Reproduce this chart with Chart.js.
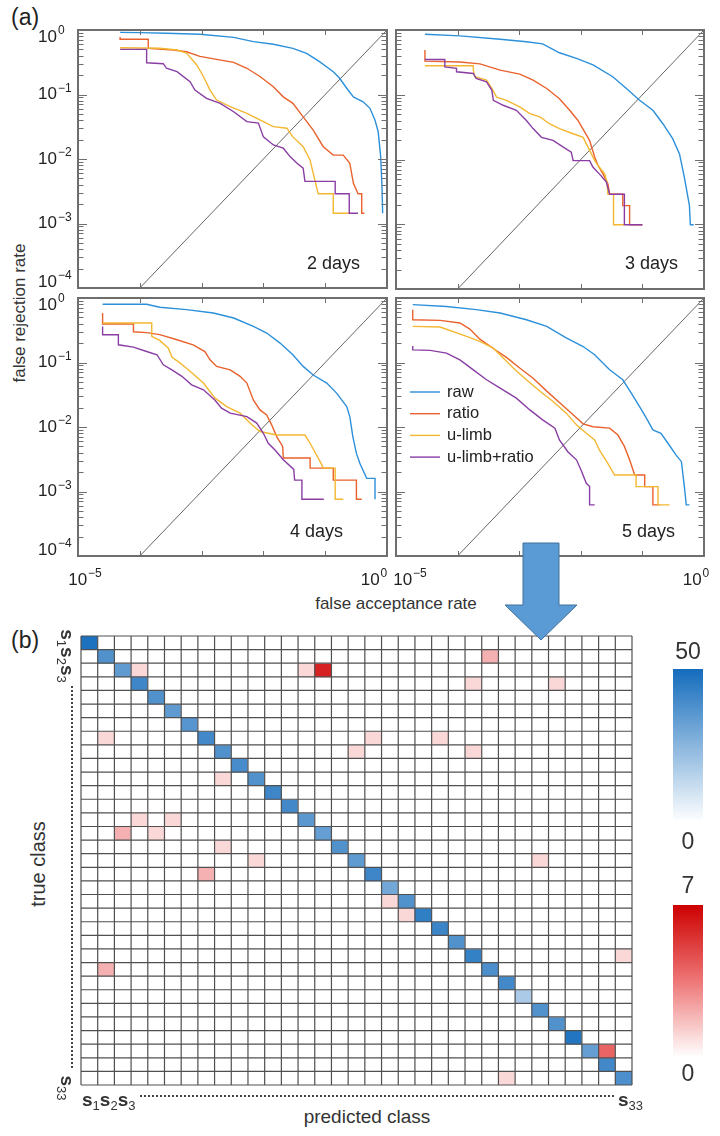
<!DOCTYPE html>
<html>
<head>
<meta charset="utf-8">
<title>DET curves and confusion matrix</title>
<script src="https://cdn.jsdelivr.net/npm/chart.js@4.4.1/dist/chart.umd.min.js"></script>
<style>
  html, body { margin: 0; padding: 0; background: #fff; }
  body { position: relative; width: 720px; height: 1136px; overflow: hidden;
         font-family: "Liberation Sans", Arial, sans-serif; color: #333; }
  canvas, .lbl, svg, .dots { position: absolute; }
  .lbl { white-space: nowrap; line-height: 1; }
  .c { transform: translate(-50%, -50%); }
  .up { transform: translate(-50%, -50%) rotate(-90deg); }
  .down { transform: translate(-50%, -50%) rotate(90deg); }
  .s { font-weight: bold; font-size: 19px; color: #333; }
  .s sub { font-size: 13px; font-weight: normal; vertical-align: -4px; }
</style>
</head>
<body>
<div class="lbl" style="left:11px;top:6px;font-size:23px;color:#222">(a)</div>
<div class="lbl" style="left:11px;top:629px;font-size:23px;color:#222">(b)</div>
<div class="lbl up" style="left:19px;top:313px;font-size:17px">false rejection rate</div>
<div class="lbl c" style="left:396px;top:603px;font-size:17px">false acceptance rate</div>
<div class="lbl up" style="left:38px;top:864px;font-size:20px">true class</div>
<div class="lbl c" style="left:367px;top:1116px;font-size:19px">predicted class</div>

<canvas id="p1" width="394" height="298" style="left:3px;top:22px"></canvas>
<canvas id="p2" width="393" height="299" style="left:321px;top:22px"></canvas>
<canvas id="p3" width="394" height="298" style="left:3px;top:290px"></canvas>
<canvas id="p4" width="393" height="298" style="left:321px;top:290px"></canvas>
<canvas id="cm" width="720" height="516" style="left:0px;top:620px"></canvas>

<div class="lbl s down" style="left:66px;top:656px">s<sub>1</sub>s<sub>2</sub>s<sub>3</sub></div>
<div class="dots" style="left:71px;top:686px;height:382px;border-left:2px dotted #444"></div>
<div class="lbl s down" style="left:66px;top:1088px">s<sub>33</sub></div>
<div class="lbl s" style="left:82px;top:1090px">s<sub>1</sub>s<sub>2</sub>s<sub>3</sub></div>
<div class="dots" style="left:140px;top:1095px;width:474px;border-top:2px dotted #444"></div>
<div class="lbl s" style="left:618px;top:1090px">s<sub>33</sub></div>

<svg width="720" height="1136" style="left:0;top:0;pointer-events:none">
  <polygon points="523,543 559,543 559,605 577,605 541,640 505,605 523,605"
           fill="#5b9bd5" stroke="#41719c" stroke-width="1"/>
</svg>

<script>
// ---- (a) DET curves: [false acceptance rate, false rejection rate] ----
const seriesNames = ['raw', 'ratio', 'u-limb', 'u-limb+ratio'];
const seriesColors = ['#2c90da', '#e9622d', '#f3b731', '#8a3ea4'];
const dayLabels = ['2 days', '3 days', '4 days', '5 days'];
const xTickExps = [-5, -4, -3, -2, -1, 0];
const yTickExps = [0, -1, -2, -3, -4];
const equalErrorLine = [[1e-4, 1e-4], [1, 1]];

// 2 days
const raw2 = [[4.8e-5,0.92],[1.0e-4,0.91],[2.7e-4,0.89],[9.4e-4,0.86],[3.3e-3,0.77],[6.9e-3,0.66],[0.0145,0.6],
  [0.030,0.52],[0.050,0.435],[0.082,0.32],[0.135,0.226],[0.17,0.18],[0.223,0.125],[0.286,0.092],[0.41,0.077],
  [0.53,0.061],[0.64,0.040],[0.72,0.0265],[0.79,0.0109],[0.83,3.7e-3],[0.85,1.44e-3]];
const ratio2 = [[4.8e-5,0.78],[4.8e-5,0.72],[1.37e-4,0.72],[1.37e-4,0.52],[3.5e-4,0.49],[5.7e-4,0.46],[9.4e-4,0.39],
  [1.75e-3,0.35],[3.3e-3,0.315],[5.4e-3,0.255],[8.8e-3,0.19],[0.0145,0.132],[0.021,0.092],[0.030,0.073],
  [0.044,0.045],[0.064,0.028],[0.093,0.0155],[0.135,0.0115],[0.196,0.0115],[0.25,8.6e-3],[0.286,4.2e-3],
  [0.34,2.9e-3],[0.39,2.9e-3],[0.39,1.44e-3],[0.43,1.44e-3]];
const limb2 = [[4.8e-5,0.53],[2.1e-4,0.52],[4.0e-4,0.49],[5.7e-4,0.44],[8.3e-4,0.29],[1.07e-3,0.19],[1.37e-3,0.117],
  [1.75e-3,0.082],[2.9e-3,0.065],[5.4e-3,0.051],[0.01,0.038],[0.0145,0.0317],[0.024,0.030],[0.030,0.022],
  [0.044,0.0155],[0.057,9.6e-3],[0.064,6e-3],[0.077,2.9e-3],[0.135,2.9e-3],[0.135,1.44e-3],[0.25,1.44e-3]];
const limbRatio2 = [[4.8e-5,0.50],[1.29e-4,0.50],[1.29e-4,0.31],[2.4e-4,0.30],[2.7e-4,0.255],[4.0e-4,0.226],
  [6.5e-4,0.158],[7.8e-4,0.117],[1.2e-3,0.087],[2.0e-3,0.073],[3.3e-3,0.054],[5.4e-3,0.038],[8.3e-3,0.036],
  [0.01,0.022],[0.0145,0.0165],[0.021,0.0147],[0.027,0.0109],[0.035,8.6e-3],[0.044,7.2e-3],[0.047,4.5e-3],
  [0.145,4.5e-3],[0.145,2.9e-3],[0.245,2.9e-3],[0.245,1.44e-3],[0.34,1.44e-3]];

// 3 days
const raw3 = [[2.95e-5,0.86],[1.09e-4,0.81],[4.9e-4,0.72],[1.31e-3,0.66],[2.4e-3,0.61],[4.5e-3,0.445],[8.5e-3,0.364],
  [0.0158,0.29],[0.033,0.19],[0.055,0.125],[0.090,0.082],[0.148,0.0575],[0.215,0.0357],[0.31,0.021],[0.40,0.0122],
  [0.48,5.3e-3],[0.58,1.94e-3],[0.60,9.8e-4],[0.68,9.8e-4]];
const ratio3 = [[2.95e-5,0.49],[2.95e-5,0.33],[1.09e-4,0.32],[2.3e-4,0.30],[4.9e-4,0.24],[1.02e-3,0.208],[1.68e-3,0.168],
  [2.8e-3,0.125],[4.5e-3,0.087],[6.6e-3,0.0575],[9e-3,0.040],[0.0116,0.0265],[0.0139,0.0197],[0.0168,0.0109],
  [0.019,8.1e-3],[0.0229,6e-3],[0.0276,4.2e-3],[0.0294,2.9e-3],[0.048,2.9e-3],[0.048,1.94e-3],[0.062,1.94e-3],
  [0.062,9.8e-4],[0.10,9.8e-4]];
const limb3 = [[2.95e-5,0.28],[1.8e-4,0.28],[1.8e-4,0.24],[1.9e-4,0.19],[2.95e-4,0.168],[3.6e-4,0.125],[4.3e-4,0.092],
  [6.2e-4,0.082],[1.02e-3,0.065],[1.49e-3,0.051],[2.2e-3,0.045],[3.1e-3,0.0357],[4.5e-3,0.030],[7.5e-3,0.025],
  [0.0109,0.022],[0.0131,0.0155],[0.0168,9.6e-3],[0.020,7.6e-3],[0.0244,6e-3],[0.0266,4.5e-3],[0.0276,2.9e-3],
  [0.034,2.9e-3],[0.034,9.8e-4],[0.051,9.8e-4]];
const limbRatio3 = [[2.95e-5,0.35],[6.2e-5,0.35],[6.2e-5,0.27],[9.6e-5,0.255],[9.6e-5,0.226],[1.8e-4,0.213],
  [2.0e-4,0.178],[2.95e-4,0.158],[3.6e-4,0.117],[3.8e-4,0.082],[5.5e-4,0.0688],[9.0e-4,0.0575],[1.31e-3,0.040],
  [1.68e-3,0.030],[2.3e-3,0.022],[3.55e-3,0.0197],[5.2e-3,0.0155],[7.0e-3,0.013],[7.5e-3,9.6e-3],[0.0139,9.6e-3],
  [0.0158,7.6e-3],[0.020,6e-3],[0.026,4.5e-3],[0.0294,2.9e-3],[0.051,2.9e-3],[0.051,9.8e-4],[0.10,9.8e-4]];

// 4 days
const raw4 = [[2.5e-5,0.80],[1.29e-4,0.80],[2.1e-4,0.72],[5.7e-4,0.66],[1.55e-3,0.585],[3.3e-3,0.49],[6.9e-3,0.363],
  [0.0113,0.286],[0.0186,0.20],[0.030,0.132],[0.044,0.087],[0.064,0.064],[0.106,0.048],[0.153,0.0335],[0.223,0.0207],
  [0.25,0.0145],[0.28,7.1e-3],[0.32,3.9e-3],[0.366,2.7e-3],[0.47,1.6e-3],[0.64,1.6e-3],[0.64,7.6e-4]];
const ratio4 = [[2.5e-5,0.585],[2.5e-5,0.395],[7.9e-5,0.395],[7.9e-5,0.30],[1.29e-4,0.29],[2.1e-4,0.27],[4.0e-4,0.225],
  [7.3e-4,0.188],[1.13e-3,0.148],[1.37e-3,0.11],[1.75e-3,0.087],[2.9e-3,0.077],[4.2e-3,0.061],[5.4e-3,0.048],
  [6.9e-3,0.026],[8.8e-3,0.0184],[0.0113,0.0154],[0.0136,0.0108],[0.0164,7.1e-3],[0.0205,5.0e-3],[0.021,3.3e-3],
  [0.057,3.3e-3],[0.057,2.3e-3],[0.135,2.3e-3],[0.135,1.5e-3],[0.32,1.5e-3],[0.32,7.6e-4],[0.39,7.6e-4]];
const limb4 = [[2.5e-5,0.41],[1.56e-4,0.41],[1.56e-4,0.254],[2.1e-4,0.22],[2.9e-4,0.167],[3.3e-4,0.121],[4.5e-4,0.098],
  [6.5e-4,0.073],[1.07e-3,0.048],[1.65e-3,0.028],[2.55e-3,0.0207],[4.2e-3,0.0164],[6.5e-3,0.0108],[8.8e-3,8.5e-3],
  [0.0164,7.5e-3],[0.047,7.5e-3],[0.057,5.6e-3],[0.068,4.1e-3],[0.0845,2.8e-3],[0.093,2.3e-3],[0.145,2.3e-3],
  [0.145,7.6e-4],[0.196,7.6e-4]];
const limbRatio4 = [[2.5e-5,0.363],[2.5e-5,0.27],[4.5e-5,0.27],[4.5e-5,0.188],[7.9e-5,0.173],[1.29e-4,0.148],
  [1.9e-4,0.132],[2.4e-4,0.092],[3.3e-4,0.077],[4.8e-4,0.061],[6.9e-4,0.045],[1.07e-3,0.0377],[1.65e-3,0.026],
  [2.1e-3,0.0196],[2.9e-3,0.0164],[5.4e-3,0.0145],[7.8e-3,0.0115],[0.01,8e-3],[0.012,5.6e-3],[0.0154,4.4e-3],
  [0.021,3.1e-3],[0.031,2.2e-3],[0.032,1.5e-3],[0.042,1.5e-3],[0.042,7.6e-4],[0.095,7.6e-4]];

// 5 days
const raw5 = [[1.87e-5,0.79],[6.6e-5,0.74],[2.0e-4,0.66],[4.9e-4,0.585],[1.31e-3,0.46],[2.8e-3,0.363],[5.8e-3,0.24],
  [0.0109,0.177],[0.0168,0.132],[0.0294,0.077],[0.048,0.054],[0.066,0.0335],[0.090,0.0207],[0.116,0.0137],
  [0.148,9e-3],[0.20,8e-3],[0.26,5.6e-3],[0.35,3.7e-3],[0.43,2.9e-3],[0.48,1.19e-3],[0.515,6.2e-4],[0.58,6.2e-4]];
const ratio5 = [[1.87e-5,0.66],[1.87e-5,0.46],[5.2e-5,0.45],[1.09e-4,0.41],[1.58e-4,0.33],[2.3e-4,0.23],[3.8e-4,0.165],
  [6.2e-4,0.12],[1.02e-3,0.082],[1.68e-3,0.057],[2.8e-3,0.036],[4.5e-3,0.024],[7.5e-3,0.0155],[0.0109,0.0112],
  [0.0158,0.0101],[0.0294,9.6e-3],[0.040,7.5e-3],[0.051,5e-3],[0.062,3.1e-3],[0.075,1.8e-3],[0.109,1.8e-3],
  [0.109,1.19e-3],[0.148,1.19e-3],[0.148,6.2e-4],[0.19,6.2e-4]];
const limb5 = [[1.87e-5,0.363],[5.2e-5,0.355],[1.4e-4,0.254],[2.3e-4,0.212],[3.8e-4,0.167],[5.5e-4,0.117],[8e-4,0.082],
  [1.31e-3,0.054],[2.2e-3,0.0355],[3.55e-3,0.0248],[5.8e-3,0.0164],[8.5e-3,0.0108],[0.0123,8e-3],[0.0168,6.3e-3],
  [0.020,4.4e-3],[0.0276,2.7e-3],[0.0354,1.8e-3],[0.079,1.8e-3],[0.079,1.19e-3],[0.179,1.19e-3],[0.179,6.2e-4],
  [0.276,6.2e-4]];
const limbRatio5 = [[1.87e-5,0.18],[1.87e-5,0.157],[3.6e-5,0.154],[6.6e-5,0.14],[1.09e-4,0.11],[1.8e-4,0.077],
  [2.95e-4,0.054],[4.9e-4,0.04],[9e-4,0.028],[1.49e-3,0.0184],[2.4e-3,0.0129],[3.8e-3,9.6e-3],[4.5e-3,6.3e-3],
  [6.2e-3,4.1e-3],[8.5e-3,3.1e-3],[0.01,2.2e-3],[0.0123,1.34e-3],[0.0139,1.19e-3],[0.0139,6.2e-4],[0.0168,6.2e-4]];

// ---- (b) confusion matrix ----
const classLabels = Array.from({ length: 33 }, (_, i) => 's' + (i + 1));
const diagCounts = [48,37,34,41,37,34,36,40,37,39,37,41,40,35,33,37,34,41,30,37,44,42,37,43,38,40,18,37,37,47,33,40,38];
// [true row, predicted column, count]
const offDiag = [[1,24,2],[2,3,1],[2,13,1],[2,14,6],[3,23,1],[3,28,1],[7,1,1],[7,17,1],[7,21,1],[8,16,1],[8,23,1],
  [10,8,1],[13,3,1],[13,5,1],[14,2,2],[14,4,1],[15,8,1],[16,10,1],[16,27,1],[17,7,2],[19,18,1],[20,19,1],
  [23,32,1],[24,1,2],[30,31,4],[32,25,1]];
const blueMax = 50, redMax = 7;

const FONT = '"Liberation Sans", Arial, sans-serif';
const toXY = pts => pts.map(p => ({ x: p[0], y: p[1] }));

function drawPow(ctx, x, y, exp, align) {
  const es = exp === 0 ? '0' : '\u2212' + Math.abs(exp);
  ctx.font = '17px ' + FONT;
  const bw = ctx.measureText('10').width;
  ctx.font = '12px ' + FONT;
  const ew = ctx.measureText(es).width;
  const x0 = align === 'left' ? x : x - (bw + 1 + ew) / 2;
  ctx.textAlign = 'left';
  ctx.textBaseline = 'middle';
  ctx.font = '17px ' + FONT;
  ctx.fillText('10', x0, y);
  ctx.font = '12px ' + FONT;
  ctx.fillText(es, x0 + bw + 1, y - 6);
}

const framePlugin = {
  id: 'frame',
  afterDraw(chart, args, o) {
    const ctx = chart.ctx;
    const x = chart.scales.x, y = chart.scales.y;
    const L = Math.round(x.getPixelForValue(1e-5)), R = Math.round(x.getPixelForValue(1));
    const T = Math.round(y.getPixelForValue(1)), B = Math.round(y.getPixelForValue(1e-4));
    ctx.save();
    // axes box and inward ticks, as filled strips
    ctx.fillStyle = '#6e6e6e';
    ctx.fillRect(L - 1, T - 1, R - L + 2, 2);
    ctx.fillRect(L - 1, B - 1, R - L + 2, 2);
    ctx.fillRect(L - 1, T - 1, 2, B - T + 2);
    ctx.fillRect(R - 1, T - 1, 2, B - T + 2);
    xTickExps.forEach(e => {
      const px = Math.round(x.getPixelForValue(Math.pow(10, e)));
      ctx.fillRect(px, T, 1, 5);
      ctx.fillRect(px, B - 5, 1, 5);
    });
    yTickExps.forEach(e => {
      const py = Math.round(y.getPixelForValue(Math.pow(10, e)));
      ctx.fillRect(L, py, 9, 1);
      ctx.fillRect(R - 9, py, 9, 1);
      if (e < 0) {
        for (let m = 2; m <= 9; m++) {
          const pm = Math.round(y.getPixelForValue(m * Math.pow(10, e)));
          ctx.fillRect(L, pm, 5.5, 1);
          ctx.fillRect(R - 5.5, pm, 5.5, 1);
        }
      }
    });

    ctx.fillStyle = '#222';
    if (o.yLabels) {
      yTickExps.forEach(e => {
        // end labels are pulled inside the axis span
        const shift = e === 0 ? 7 : (e === -4 ? -6 : 0);
        drawPow(ctx, L - 40, y.getPixelForValue(Math.pow(10, e)) + shift, e, 'left');
      });
    }
    if (o.xLabels) {
      const yy = B + 24;
      drawPow(ctx, L + o.xLabels[0], yy, -5, 'center');
      drawPow(ctx, R + o.xLabels[1], yy, 0, 'center');
    }
    ctx.font = '18px ' + FONT;
    ctx.textAlign = 'right';
    ctx.textBaseline = 'alphabetic';
    ctx.fillText(dayLabels[o.day], R - o.dayPos[0], B - o.dayPos[1]);

    if (o.legend) {
      ctx.font = '16.5px ' + FONT;
      ctx.textAlign = 'left';
      ctx.textBaseline = 'middle';
      seriesNames.forEach((name, i) => {
        const ly = T + 94 + 21.7 * i;
        ctx.strokeStyle = seriesColors[i];
        ctx.lineWidth = 1.4;
        ctx.beginPath();
        ctx.moveTo(L + 14, ly); ctx.lineTo(L + 44, ly);
        ctx.stroke();
        ctx.fillStyle = '#222';
        ctx.fillText(name, L + 51, ly);
      });
    }
    ctx.restore();
  }
};

const panels = [
  { id: 'p1', curves: [raw2, ratio2, limb2, limbRatio2], day: 0, yLabels: true, xLabels: null, dayPos: [27, 19], pad: [75, 8, 10, 32] },
  { id: 'p2', curves: [raw3, ratio3, limb3, limbRatio3], day: 1, yLabels: false, xLabels: null, dayPos: [26, 20], pad: [75, 8, 10, 32] },
  { id: 'p3', curves: [raw4, ratio4, limb4, limbRatio4], day: 2, yLabels: true, xLabels: [7, -13], dayPos: [44, 19], pad: [75, 8, 10, 32] },
  { id: 'p4', curves: [raw5, ratio5, limb5, limbRatio5], day: 3, yLabels: false, xLabels: [14, -8], dayPos: [29, 19], pad: [75, 8, 10, 32], legend: true }
];

panels.forEach(p => {
  const datasets = p.curves.map((c, i) => ({
    label: seriesNames[i],
    data: toXY(c),
    borderColor: seriesColors[i],
    borderWidth: 1.4,
    pointRadius: 0,
    tension: 0,
    order: 3 - i
  }));
  datasets.push({
    label: 'EER',
    data: toXY(equalErrorLine),
    borderColor: '#555',
    borderWidth: 0.9,
    pointRadius: 0,
    order: 5
  });
  new Chart(document.getElementById(p.id), {
    type: 'line',
    data: { datasets },
    options: {
      responsive: false,
      animation: false,
      events: [],
      layout: { padding: { left: p.pad[0], top: p.pad[1], right: p.pad[2], bottom: p.pad[3] } },
      scales: {
        x: { type: 'logarithmic', min: 1e-5, max: 1, display: false },
        y: { type: 'logarithmic', min: 1e-4, max: 1, display: false }
      },
      plugins: {
        legend: { display: false },
        tooltip: { enabled: false },
        frame: { day: p.day, yLabels: p.yLabels, xLabels: p.xLabels, dayPos: p.dayPos, legend: !!p.legend }
      }
    },
    plugins: [framePlugin]
  });
});

// ---- confusion matrix ----
const n = classLabels.length;
const counts = classLabels.map(() => classLabels.map(() => 0));
diagCounts.forEach((v, i) => { counts[i][i] = v; });
offDiag.forEach(([r, c, v]) => { counts[r][c] = v; });

function mix(c0, c1, f) {
  return c0.map((v, k) => Math.round(v + (c1[k] - v) * f));
}
const blueStops = [[0, [255, 255, 255]], [1, [20, 108, 188]]];
const redStops = [[0, [255, 255, 255]], [0.5, [238, 118, 118]], [1, [205, 0, 0]]];
function cmap(stops, t) {
  t = Math.max(0, Math.min(1, t));
  for (let k = 1; k < stops.length; k++) {
    if (t <= stops[k][0]) {
      const f = (t - stops[k - 1][0]) / (stops[k][0] - stops[k - 1][0]);
      const c = mix(stops[k - 1][1], stops[k][1], f);
      return `rgb(${c[0]},${c[1]},${c[2]})`;
    }
  }
  const c = stops[stops.length - 1][1];
  return `rgb(${c[0]},${c[1]},${c[2]})`;
}
function cellColor(r, c) {
  const v = counts[r][c];
  if (v === 0) return '#ffffff';
  return r === c ? cmap(blueStops, v / blueMax) : cmap(redStops, v / redMax);
}

const matrixPlugin = {
  id: 'matrixGrid',
  afterDatasetsDraw(chart) {
    const { ctx, chartArea: a, scales: { y } } = chart;
    ctx.save();
    ctx.strokeStyle = '#505050';
    ctx.lineWidth = 1.2;
    ctx.beginPath();
    for (let i = 0; i <= n; i++) {
      const px = a.left + a.width * i / n;
      ctx.moveTo(px, a.top); ctx.lineTo(px, a.bottom);
      const py = y.getPixelForValue(i);
      ctx.moveTo(a.left, py); ctx.lineTo(a.right, py);
    }
    ctx.stroke();

    // colour bars
    const bars = [
      { stops: blueStops, top: 49, bottom: 202, maxLabel: String(blueMax), maxY: 33, zeroY: 223 },
      { stops: redStops, top: 285, bottom: 437, maxLabel: String(redMax), maxY: 267, zeroY: 455 }
    ];
    const bx = 673, bw = 30;
    bars.forEach(b => {
      const g = ctx.createLinearGradient(0, b.bottom, 0, b.top);
      b.stops.forEach(([t]) => g.addColorStop(t, cmap(b.stops, t)));
      ctx.fillStyle = g;
      ctx.fillRect(bx, b.top, bw, b.bottom - b.top);
      ctx.fillStyle = '#333';
      ctx.font = '23px ' + FONT;
      ctx.textAlign = 'center';
      ctx.textBaseline = 'middle';
      ctx.fillText(b.maxLabel, bx + bw / 2, b.maxY);
      ctx.fillText('0', bx + bw / 2, b.zeroY);
    });
    ctx.restore();
  }
};

new Chart(document.getElementById('cm'), {
  type: 'bar',
  data: {
    labels: classLabels,
    datasets: classLabels.map((rowName, r) => ({
      label: rowName,
      data: classLabels.map(() => 1),
      backgroundColor: classLabels.map((_, c) => cellColor(r, c)),
      borderWidth: 0,
      categoryPercentage: 1,
      barPercentage: 1
    }))
  },
  options: {
    responsive: false,
    animation: false,
    events: [],
    layout: { padding: { left: 81, top: 16, right: 88, bottom: 51 } },
    scales: {
      x: { type: 'category', stacked: true, display: false },
      y: { type: 'linear', stacked: true, min: 0, max: n, reverse: true, display: false }
    },
    plugins: { legend: { display: false }, tooltip: { enabled: false } }
  },
  plugins: [matrixPlugin]
});
</script>
</body>
</html>
